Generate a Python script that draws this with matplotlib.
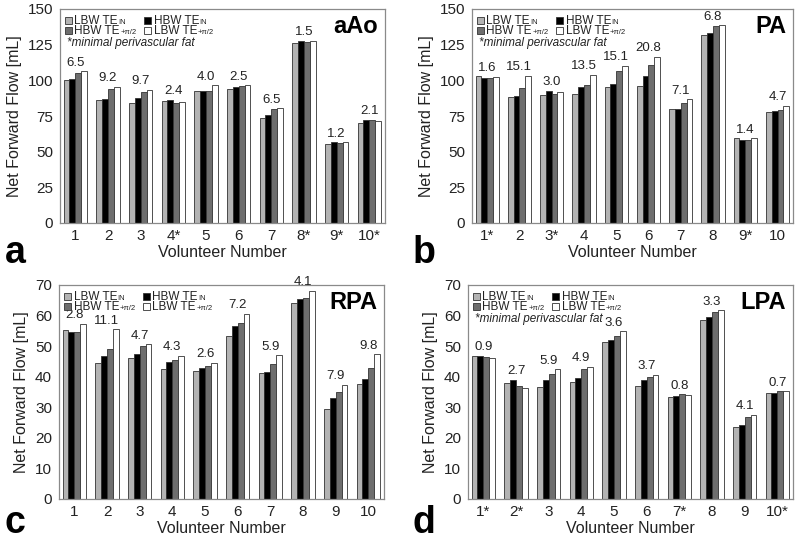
import matplotlib
matplotlib.use("Agg")
import matplotlib.pyplot as plt
import numpy as np
from matplotlib.patches import Rectangle

plt.rcParams['font.family'] = ['Liberation Sans', 'DejaVu Sans']

series_main = ['LBW TE', 'HBW TE', 'HBW TE', 'LBW TE']
series_sub = ['IN', 'IN', '+\u03c0/2', '+\u03c0/2']
colors = ['#b3b3b3', '#000000', '#6e6e6e', '#ffffff']

# aAo
aao_labels = ['1', '2', '3', '4*', '5', '6', '7', '8*', '9*', '10*']
aao_lbw_in = [100.0, 86.3, 83.8, 85.2, 92.4, 94.0, 73.8, 126.3, 55.3, 70.2]
aao_hbw_in = [101.0, 87.0, 87.5, 86.5, 92.4, 95.5, 75.5, 127.3, 56.5, 72.3]
aao_hbw_pi = [105.0, 94.2, 92.0, 84.1, 92.8, 96.0, 80.1, 127.1, 56.4, 72.2]
aao_lbw_pi = [106.5, 95.5, 93.5, 84.9, 96.4, 96.5, 80.3, 127.8, 56.5, 71.6]
aao_diff = ['6.5', '9.2', '9.7', '2.4', '4.0', '2.5', '6.5', '1.5', '1.2', '2.1']

# PA
pa_labels = ['1*', '2', '3*', '4', '5', '6', '7', '8', '9*', '10']
pa_lbw_in = [103.0, 88.1, 89.7, 90.4, 95.2, 95.8, 79.8, 131.7, 59.4, 77.5]
pa_hbw_in = [101.4, 89.0, 92.7, 95.0, 97.2, 103.0, 80.2, 133.0, 58.1, 78.6]
pa_hbw_pi = [101.4, 94.5, 90.7, 97.0, 106.3, 111.0, 84.0, 137.8, 58.0, 79.2]
pa_lbw_pi = [102.4, 103.2, 91.8, 103.9, 110.3, 116.6, 86.9, 138.5, 59.4, 82.2]
pa_diff = ['1.6', '15.1', '3.0', '13.5', '15.1', '20.8', '7.1', '6.8', '1.4', '4.7']

# RPA
rpa_labels = ['1', '2', '3', '4', '5', '6', '7', '8', '9', '10']
rpa_lbw_in = [55.2, 44.5, 46.0, 42.5, 41.9, 53.4, 41.1, 64.1, 29.5, 37.6]
rpa_hbw_in = [54.6, 46.7, 47.4, 44.9, 42.7, 56.5, 41.7, 65.4, 33.2, 39.2]
rpa_hbw_pi = [54.5, 49.1, 50.1, 45.6, 43.5, 57.5, 44.3, 65.6, 35.1, 42.9]
rpa_lbw_pi = [57.3, 55.6, 50.7, 46.8, 44.5, 60.6, 47.0, 68.2, 37.4, 47.4]
rpa_diff = ['2.8', '11.1', '4.7', '4.3', '2.6', '7.2', '5.9', '4.1', '7.9', '9.8']

# LPA
lpa_labels = ['1*', '2*', '3', '4', '5', '6', '7*', '8', '9', '10*']
lpa_lbw_in = [46.8, 38.0, 36.5, 38.3, 51.3, 36.9, 33.4, 58.4, 23.5, 34.6]
lpa_hbw_in = [46.9, 39.0, 38.8, 39.7, 52.0, 39.0, 33.7, 59.4, 24.3, 34.6]
lpa_hbw_pi = [46.3, 37.0, 40.8, 42.5, 53.3, 39.8, 34.2, 61.2, 26.8, 35.3]
lpa_lbw_pi = [46.0, 36.3, 42.4, 43.2, 54.9, 40.6, 34.0, 61.7, 27.6, 35.3]
lpa_diff = ['0.9', '2.7', '5.9', '4.9', '3.6', '3.7', '0.8', '3.3', '4.1', '0.7']

panels = [
    dict(name='aAo', letter='a', labels=aao_labels,
         data=[aao_lbw_in, aao_hbw_in, aao_hbw_pi, aao_lbw_pi], diff=aao_diff,
         ymax=150, yticks=[0, 25, 50, 75, 100, 125, 150], note=True,
         rect=[60, 9, 385, 223], lpos=(5, 263)),
    dict(name='PA', letter='b', labels=pa_labels,
         data=[pa_lbw_in, pa_hbw_in, pa_hbw_pi, pa_lbw_pi], diff=pa_diff,
         ymax=150, yticks=[0, 25, 50, 75, 100, 125, 150], note=True,
         rect=[472, 9, 793, 223], lpos=(413, 263)),
    dict(name='RPA', letter='c', labels=rpa_labels,
         data=[rpa_lbw_in, rpa_hbw_in, rpa_hbw_pi, rpa_lbw_pi], diff=rpa_diff,
         ymax=70, yticks=[0, 10, 20, 30, 40, 50, 60, 70], note=False,
         rect=[59, 285, 384, 499], lpos=(5, 533)),
    dict(name='LPA', letter='d', labels=lpa_labels,
         data=[lpa_lbw_in, lpa_hbw_in, lpa_hbw_pi, lpa_lbw_pi], diff=lpa_diff,
         ymax=70, yticks=[0, 10, 20, 30, 40, 50, 60, 70], note=True,
         rect=[468, 285, 793, 499], lpos=(412, 533)),
]

W, H = 800, 541
fig = plt.figure(figsize=(W / 100, H / 100), dpi=100)
bw = 0.18
spine_col = '#8a8a8a'
txt_col = '#222222'

for p in panels:
    l, t, r, b = p['rect']
    aw, ah = r - l, b - t
    ax = fig.add_axes([l / W, 1 - b / H, aw / W, ah / H])

    def fx(dx):
        return dx / aw

    def fy(dy):
        return 1 - dy / ah

    x = np.arange(len(p['labels']))
    for i, (vals, c) in enumerate(zip(p['data'], colors)):
        ax.bar(x + (i - 1.5) * bw, vals, width=bw, color=c,
               edgecolor='#333333', linewidth=0.6)
    tops = np.max(np.array(p['data']), axis=0)
    for xi, tp, d in zip(x, tops, p['diff']):
        ax.annotate(d, (xi, tp), xytext=(0, 1.8), textcoords='offset points',
                    ha='center', va='bottom', fontsize=9.5, color=txt_col)
    ax.set_xlim(-0.47, len(x) - 0.52)
    ax.set_ylim(0, p['ymax'])
    ax.set_yticks(p['yticks'])
    ax.set_xticks(x)
    ax.set_xticklabels(p['labels'])
    ax.tick_params(axis='both', length=0, labelsize=11, colors=txt_col, pad=4)
    ax.tick_params(axis='y', pad=5)
    for s in ax.spines.values():
        s.set_color(spine_col)
        s.set_linewidth(0.9)
    ax.set_xlabel('Volunteer Number', fontsize=11.5, color=txt_col, labelpad=2)
    ax.set_ylabel('Net Forward Flow [mL]', fontsize=11.5, color=txt_col, labelpad=4)

    # manual legend (2 columns x 2 rows)
    order = [(0, 5, 11.5), (1, 84, 11.5), (2, 5, 21.5), (3, 84, 21.5)]
    sq = 7
    for k, dx, dy in order:
        ax.add_patch(Rectangle((fx(dx), fy(dy + sq / 2)), fx(sq), sq / ah,
                               transform=ax.transAxes, facecolor=colors[k],
                               edgecolor='#333333', linewidth=0.6, zorder=5))
        main = ax.text(fx(dx + sq + 2.5), fy(dy + 4), series_main[k],
                       transform=ax.transAxes, fontsize=8.5, color=txt_col,
                       ha='left', va='baseline', zorder=5)
        ax.annotate(series_sub[k], xy=(1, 0), xycoords=main, xytext=(0.3, 1.2),
                    textcoords='offset points', fontsize=5.5, color=txt_col,
                    ha='left', va='bottom', zorder=5)
    if p['note']:
        ax.text(fx(7), fy(37), '*minimal perivascular fat', transform=ax.transAxes,
                fontsize=8.5, style='italic', color=txt_col, va='baseline', ha='left')
    ax.text(fx(aw - 7), fy(24), p['name'], transform=ax.transAxes, fontsize=17,
            fontweight='bold', ha='right', va='baseline')
    fig.text(p['lpos'][0] / W, 1 - p['lpos'][1] / H, p['letter'], fontsize=27,
             fontweight='bold', ha='left', va='baseline')

fig.savefig('out.png', dpi=100)
